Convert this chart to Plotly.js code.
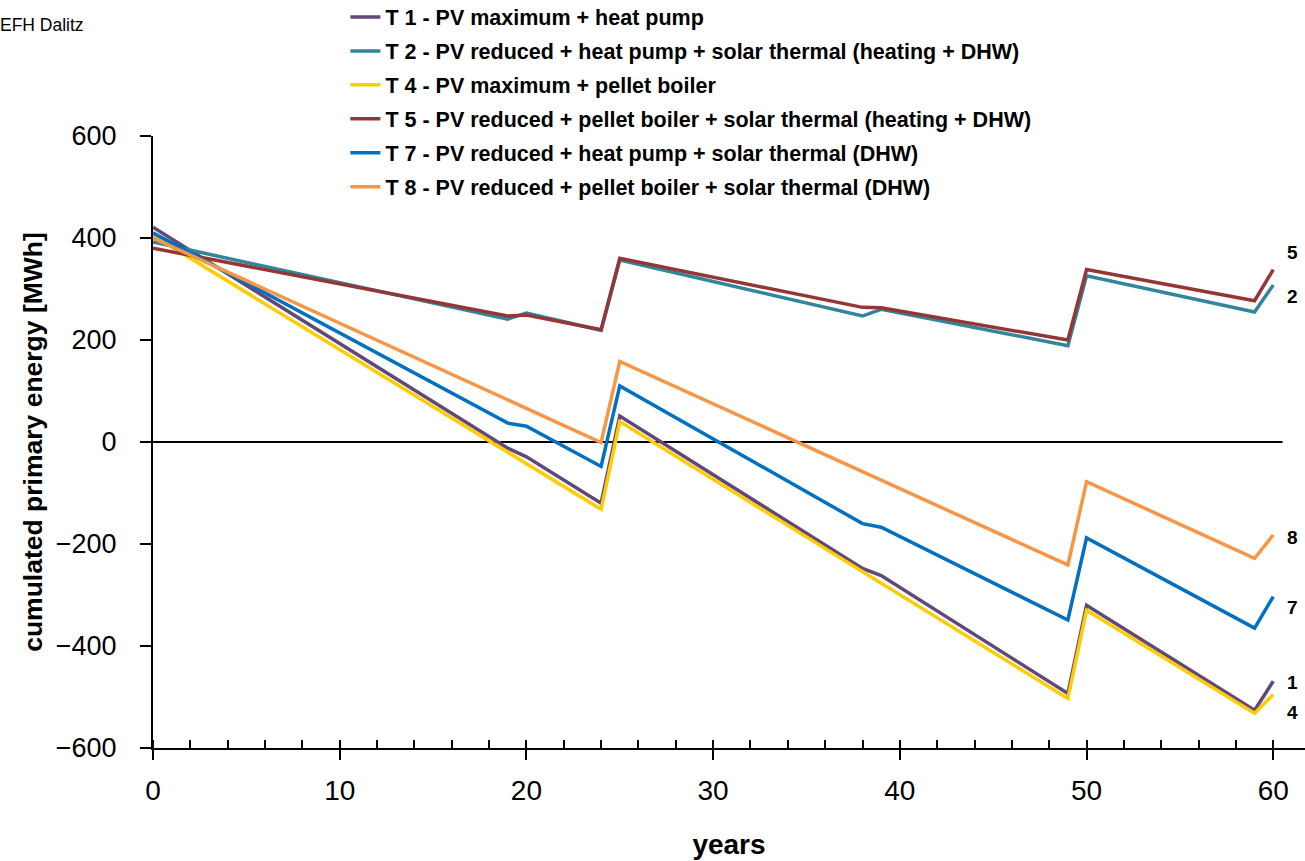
<!DOCTYPE html>
<html>
<head>
<meta charset="utf-8">
<script src="https://cdn.plot.ly/plotly-3.0.1.min.js"></script>
<style>
  html, body { margin: 0; padding: 0; background: #ffffff; }
  #chart { width: 1305px; height: 861px; }
</style>
</head>
<body>
<div id="chart"></div>
<script>
// ---- data ----
const chartTitle = 'EFH Dalitz';
const seriesNames = [
  'T 1 - PV maximum + heat pump',
  'T 2 - PV reduced + heat pump + solar thermal (heating + DHW)',
  'T 4 - PV maximum + pellet boiler',
  'T 5 - PV reduced + pellet boiler + solar thermal (heating + DHW)',
  'T 7 - PV reduced + heat pump + solar thermal (DHW)',
  'T 8 - PV reduced + pellet boiler + solar thermal (DHW)'
];
const seriesColors = ['#60497A', '#31859C', '#FFCC00', '#943634', '#0070C0', '#F79646'];

const yearsT1 = [0, 19, 20, 24, 25, 38, 39, 49, 50, 59, 60];
const valuesT1 = [421, -12, -29, -120, 51, -248, -262, -493, -320, -526, -469];

const yearsT2 = [0, 19, 20, 24, 25, 38, 39, 49, 50, 59, 60];
const valuesT2 = [392, 241, 253, 219, 357, 247, 260, 189, 326, 255, 308];

const yearsT4 = [0, 24, 25, 49, 50, 59, 60];
const valuesT4 = [405, -132, 40, -503, -330, -532, -495];

const yearsT5 = [0, 19, 20, 24, 25, 38, 39, 49, 50, 59, 60];
const valuesT5 = [380, 247, 249, 220, 360, 264, 263, 200, 338, 277, 338];

const yearsT7 = [0, 19, 20, 24, 25, 38, 39, 49, 50, 59, 60];
const valuesT7 = [410, 37, 31, -48, 110, -160, -167, -349, -188, -365, -303];

const yearsT8 = [0, 24, 25, 49, 50, 59, 60];
const valuesT8 = [400, -1, 158, -241, -78, -228, -182];

const endLabels = ['5', '2', '8', '7', '1', '4'];
const endLabelValues = [371, 286, -188, -325, -471, -531];

const xTitle = 'years';
const yTitle = 'cumulated primary energy [MWh]';

// ---- build traces ----
const allYears = [yearsT1, yearsT2, yearsT4, yearsT5, yearsT7, yearsT8];
const allValues = [valuesT1, valuesT2, valuesT4, valuesT5, valuesT7, valuesT8];

const FONT = '"Liberation Sans", Arial, sans-serif';

const traces = seriesNames.map((name, i) => ({
  type: 'scatter',
  mode: 'lines',
  name: name,
  x: allYears[i],
  y: allValues[i],
  legendgroup: 'g' + i,
  line: { color: seriesColors[i], width: 3.5 },
  hoverinfo: 'x+y+name'
}));

const annotations = endLabels.map((t, i) => ({
  xref: 'x', yref: 'y',
  x: 61.05, y: endLabelValues[i],
  text: t, showarrow: false,
  xanchor: 'center', yanchor: 'middle',
  font: { family: FONT, size: 19, color: '#000', weight: 'bold' }
}));

const layout = {
  width: 1305,
  height: 861,
  paper_bgcolor: '#ffffff',
  plot_bgcolor: '#ffffff',
  margin: { l: 153, r: 0, t: 136, b: 113, pad: 0, autoexpand: false },
  showlegend: true,
  title: {
    text: chartTitle,
    xref: 'container', yref: 'container',
    x: 0, xanchor: 'left',
    y: 1 - 25 / 861, yanchor: 'middle',
    pad: { l: 0, r: 0, t: 0, b: 0 },
    font: { family: FONT, size: 17.5, color: '#000' }
  },
  legend: {
    x: 0.167, xanchor: 'left',
    y: 1.228, yanchor: 'top',
    bgcolor: 'rgba(0,0,0,0)',
    borderwidth: 0,
    tracegroupgap: 3,
    font: { family: FONT, size: 21.5, color: '#000', weight: 'bold' }
  },
  xaxis: {
    range: [0, 61.7],
    tick0: 0, dtick: 10,
    ticks: 'outside', ticklen: 10, tickwidth: 2, tickcolor: '#000',
    ticklabelstandoff: 6,
    showline: true, linecolor: '#000', linewidth: 2,
    showgrid: false, zeroline: false,
    tickfont: { family: FONT, size: 28, color: '#000' },
    minor: { tick0: 0, dtick: 2, ticks: 'inside', ticklen: 8, tickwidth: 2, tickcolor: '#000', showgrid: false },
    title: { text: xTitle, standoff: 30, font: { family: FONT, size: 28, color: '#000', weight: 'bold' } },
    fixedrange: true
  },
  xaxis2: {
    overlaying: 'x', anchor: 'y', side: 'bottom',
    range: [0, 61.7],
    tick0: 0, dtick: 10,
    ticks: 'inside', ticklen: 12, tickwidth: 2, tickcolor: '#000',
    showticklabels: false, showline: false, showgrid: false, zeroline: false,
    fixedrange: true
  },
  yaxis: {
    range: [-600, 600],
    tick0: 0, dtick: 200,
    ticks: 'outside', ticklen: 11, tickwidth: 2, tickcolor: '#000',
    ticklabelstandoff: 18,
    showline: true, linecolor: '#000', linewidth: 2,
    showgrid: false, zeroline: false,
    tickfont: { family: FONT, size: 27, color: '#000' },
    title: { text: yTitle, standoff: 5, font: { family: FONT, size: 26.5, color: '#000', weight: 'bold' } },
    fixedrange: true
  },
  shapes: [{
    type: 'line', xref: 'x', yref: 'y',
    x0: 0, x1: 60.5, y0: 0, y1: 0,
    line: { color: '#000', width: 2 },
    layer: 'below'
  }],
  annotations: annotations
};

Plotly.newPlot('chart', traces, layout, { displayModeBar: false, staticPlot: true });
</script>
</body>
</html>
